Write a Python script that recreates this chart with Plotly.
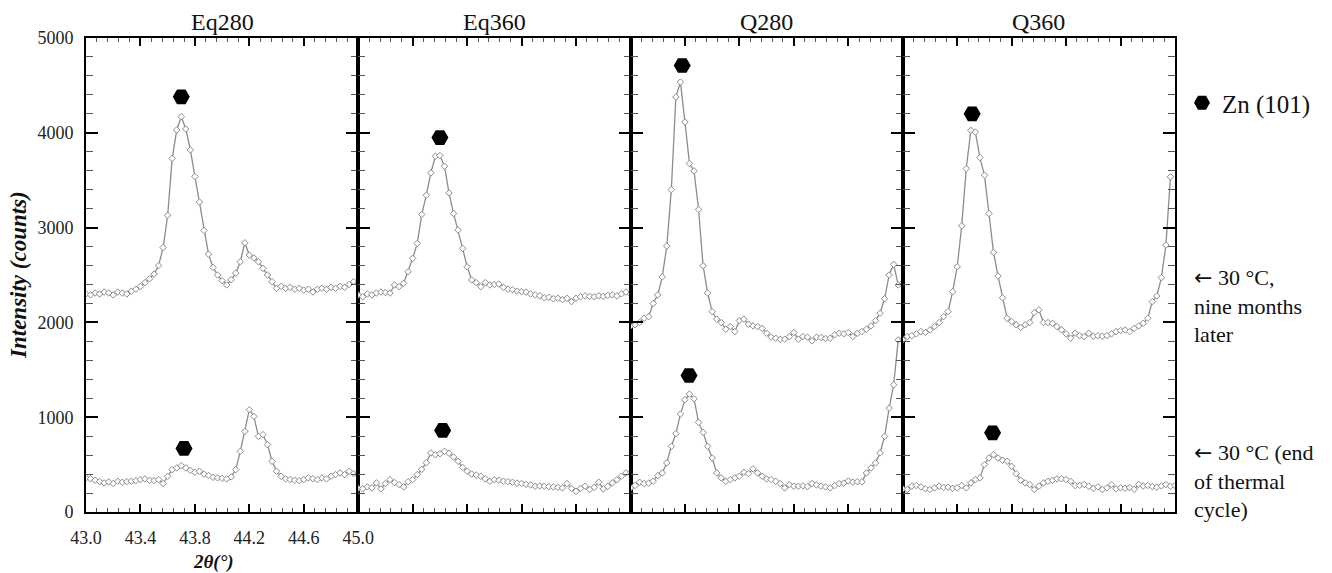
import plotly.graph_objects as go
from plotly.subplots import make_subplots

# ---- data -------------------------------------------------------------
panels = ["Eq280", "Eq360", "Q280", "Q360"]
two_theta = [round(43.0 + i / 30.0, 4) for i in range(61)]  # scan grid, deg

eq280_upper = [2300, 2290, 2310, 2300, 2320, 2310, 2290, 2320, 2310, 2300,
               2330, 2350, 2380, 2420, 2460, 2510, 2600, 2790, 3130, 3730,
               4030, 4170, 4040, 3820, 3540, 3270, 2970, 2720, 2580, 2500,
               2440, 2395, 2450, 2520, 2640, 2840, 2710, 2680, 2640, 2570,
               2500, 2430, 2360, 2380, 2360, 2370, 2350, 2360, 2340, 2350,
               2320, 2350, 2360, 2350, 2370, 2360, 2380, 2370, 2400, 2430, 2420]
eq280_lower = [360, 350, 335, 320, 307, 318, 300, 324, 314, 320,
               324, 331, 342, 349, 335, 331, 342, 300, 377, 447,
               465, 489, 465, 440, 419, 430, 400, 385, 365, 360,
               355, 349, 370, 447, 640, 851, 1079, 1008, 798, 816,
               711, 535, 430, 377, 349, 342, 335, 331, 342, 360,
               352, 342, 360, 349, 377, 394, 412, 394, 430, 405, 415]
eq360_upper = [2290, 2270, 2300, 2290, 2310, 2320, 2315, 2310, 2395, 2377,
               2412, 2535, 2676, 2833, 3139, 3342, 3577, 3753, 3760, 3647,
               3366, 3149, 2974, 2781, 2587, 2447, 2419, 2377, 2419, 2395,
               2400, 2405, 2370, 2350, 2345, 2330, 2325, 2320, 2300, 2290,
               2280, 2260, 2265, 2250, 2255, 2240, 2254, 2220, 2255, 2270,
               2280, 2275, 2270, 2280, 2275, 2285, 2290, 2280, 2300, 2320, 2300]
eq360_lower = [250, 244, 265, 255, 307, 244, 300, 342, 310, 290,
               265, 320, 342, 395, 450, 520, 623, 605, 615, 640,
               620, 580, 535, 470, 430, 400, 390, 377, 350, 324,
               340, 335, 325, 320, 314, 305, 300, 292, 285, 272,
               275, 272, 268, 265, 260, 254, 300, 250, 219, 250,
               272, 237, 260, 314, 244, 270, 307, 340, 377, 412, 420]
q280_upper = [1960, 1975, 2000, 2044, 2061, 2200, 2290, 2480, 2805, 3400,
              4377, 4535, 4114, 3676, 3598, 3191, 2598, 2310, 2114, 2034,
              1998, 1928, 1956, 1903, 2019, 2034, 1981, 1963, 1956, 1937,
              1886, 1844, 1833, 1823, 1823, 1850, 1893, 1823, 1851, 1845,
              1805, 1844, 1840, 1830, 1833, 1870, 1886, 1880, 1893, 1851,
              1886, 1903, 1928, 1963, 2019, 2097, 2250, 2500, 2612, 2395, 2420]
q280_lower = [254, 280, 314, 300, 305, 324, 384, 412, 518, 693,
              826, 1033, 1184, 1244, 1195, 945, 840, 693, 570, 412,
              360, 324, 342, 360, 377, 419, 405, 455, 412, 377,
              349, 342, 324, 300, 254, 289, 272, 272, 275, 268,
              300, 285, 272, 265, 254, 279, 300, 305, 328, 315,
              320, 318, 412, 465, 518, 623, 798, 1096, 1342, 1816, 1823]
q360_upper = [1816, 1851, 1860, 1879, 1903, 1895, 1921, 1956, 1998, 2061,
              2114, 2324, 2587, 3019, 3623, 4026, 4008, 3739, 3553, 3149,
              2739, 2489, 2261, 2044, 2008, 1974, 1946, 1974, 1998, 2103,
              2132, 1998, 1998, 1990, 1956, 1921, 1880, 1833, 1886, 1860,
              1850, 1886, 1855, 1860, 1855, 1860, 1879, 1903, 1915, 1920,
              1903, 1937, 1963, 1990, 2044, 2219, 2279, 2472, 2816, 3535, None]
q360_lower = [244, 237, 272, 279, 265, 244, 237, 254, 272, 260,
              262, 250, 255, 279, 254, 307, 342, 360, 500, 570,
              605, 570, 546, 535, 482, 405, 335, 307, 290, 237,
              272, 307, 324, 335, 349, 350, 342, 324, 279, 282,
              290, 272, 250, 265, 237, 255, 290, 244, 255, 250,
              258, 240, 290, 275, 280, 268, 262, 275, 290, 272, 280]

upper_curves = [eq280_upper, eq360_upper, q280_upper, q360_upper]
lower_curves = [eq280_lower, eq360_lower, q280_lower, q360_lower]

# Zn (101) peak markers: [upper, lower] per panel
zn_x = [[43.70, 43.72], [43.60, 43.62], [43.38, 43.43], [43.51, 43.66]]
zn_y = [[4380, 670], [3950, 860], [4710, 1440], [4200, 835]]

x_ticks = [43.0, 43.4, 43.8, 44.2, 44.6, 45.0]
y_ticks = [0, 1000, 2000, 3000, 4000, 5000]

# ---- figure -----------------------------------------------------------
SERIF = "Liberation Serif, Times New Roman, serif"
LINE_C = "#8c8c8c"

fig = make_subplots(rows=1, cols=4, horizontal_spacing=0)

for k in range(4):
    for curve in (upper_curves[k], lower_curves[k]):
        fig.add_trace(go.Scatter(
            x=two_theta, y=curve, mode="lines+markers",
            line=dict(color=LINE_C, width=1.3),
            marker=dict(symbol="diamond", size=5, color="white",
                        line=dict(color=LINE_C, width=1)),
            showlegend=False, hoverinfo="skip"), row=1, col=k + 1)
    fig.add_trace(go.Scatter(
        x=zn_x[k], y=zn_y[k], mode="markers",
        marker=dict(symbol="hexagon2", size=17, color="black"),
        name="Zn (101)", showlegend=(k == 0)), row=1, col=k + 1)

for k in range(4):
    fig.update_xaxes(
        range=[43.0, 45.0], tickvals=x_ticks, tickformat=".1f",
        ticks="inside", ticklen=8, tickwidth=2, tickcolor="black",
        showline=True, linewidth=2, linecolor="black", mirror="ticks",
        showgrid=False, zeroline=False, showticklabels=(k == 0),
        ticklabelstandoff=8,
        tickfont=dict(family=SERIF, size=18, color="#222"),
        minor=dict(ticks="inside", tick0=43.0, dtick=0.08, ticklen=4,
                   tickwidth=1, tickcolor="#555", showgrid=False),
        row=1, col=k + 1)
    fig.update_yaxes(
        range=[0, 5000], tickvals=y_ticks,
        ticks="inside", ticklen=12, tickwidth=2, tickcolor="black",
        showline=True, linewidth=2, linecolor="black", mirror="ticks",
        showgrid=False, zeroline=False, showticklabels=(k == 0),
        ticklabelstandoff=7,
        tickfont=dict(family=SERIF, size=18, color="#222"),
        minor=dict(ticks="inside", tick0=0, dtick=200, ticklen=7,
                   tickwidth=1, tickcolor="#555", showgrid=False),
        row=1, col=k + 1)

L, R, T, B = 86, 157, 38, 61
W, H = 1332, 573
pw, ph = W - L - R, H - T - B


def px(xp):
    return (xp - L) / pw


def py(yp):
    return (H - B - yp) / ph


ARROW = '<span style="font-family:DejaVu Sans">←</span>'

annots = []
for k, name in enumerate(panels):
    annots.append(dict(text=name, x=0.125 + 0.25 * k, y=py(22), xref="paper",
                       yref="paper", showarrow=False, xanchor="center",
                       yanchor="middle",
                       font=dict(family=SERIF, size=24, color="#111")))
annots.append(dict(text="<b><i>Intensity (counts)</i></b>", x=px(18), y=py(275),
                   xref="paper", yref="paper", showarrow=False, textangle=-90,
                   xanchor="center", yanchor="middle",
                   font=dict(family=SERIF, size=23, color="#111")))
annots.append(dict(text="<b><i>2θ(°)</i></b>", x=px(213), y=py(562),
                   xref="paper", yref="paper", showarrow=False,
                   xanchor="center", yanchor="middle",
                   font=dict(family=SERIF, size=19, color="#111")))
annots.append(dict(text=ARROW + " 30 °C,<br>nine months<br>later", x=px(1192),
                   y=py(306), xref="paper", yref="paper", showarrow=False,
                   xanchor="left", yanchor="middle", align="left",
                   font=dict(family=SERIF, size=22, color="#111")))
annots.append(dict(text=ARROW + " 30 °C (end<br>of thermal<br>cycle)", x=px(1192),
                   y=py(481), xref="paper", yref="paper", showarrow=False,
                   xanchor="left", yanchor="middle", align="left",
                   font=dict(family=SERIF, size=22, color="#111")))

fig.update_layout(
    width=W, height=H,
    margin=dict(l=L, r=R, t=T, b=B, pad=0),
    plot_bgcolor="white", paper_bgcolor="white",
    annotations=annots,
    showlegend=True,
    legend=dict(x=px(1182), y=py(103), xanchor="left", yanchor="middle",
                font=dict(family=SERIF, size=25, color="#111"),
                bgcolor="rgba(0,0,0,0)", borderwidth=0, itemsizing="trace"),
)

fig.write_html("out.html")
